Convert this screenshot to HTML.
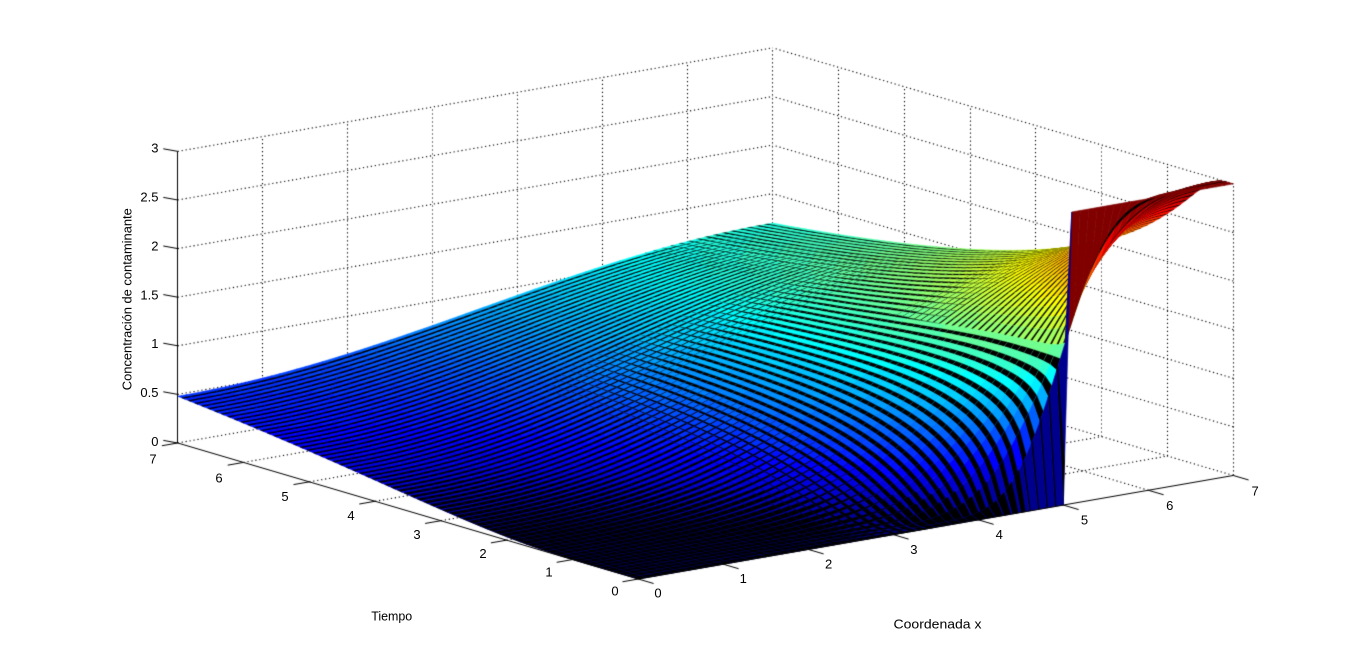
<!DOCTYPE html>
<html>
<head>
<meta charset="utf-8">
<style>
html,body{margin:0;padding:0;background:#fff;}
#wrap{position:relative;width:1367px;height:651px;overflow:hidden;background:#fff;}
#c{position:absolute;left:0;top:0;}
#t{position:absolute;left:0;top:0;}
#t text{font-family:"Liberation Sans",Arial,Helvetica,sans-serif;font-size:13px;fill:#000;}
</style>
</head>
<body>
<div id="wrap">
<canvas id="c" width="1367" height="651"></canvas>
<svg id="t" width="1367" height="651" xmlns="http://www.w3.org/2000/svg">
  <g text-anchor="end">
    <text x="158.5" y="446">0</text>
    <text x="158.5" y="397.1">0.5</text>
    <text x="158.5" y="348.2">1</text>
    <text x="158.5" y="299.3">1.5</text>
    <text x="158.5" y="250.5">2</text>
    <text x="158.5" y="201.6">2.5</text>
    <text x="158.5" y="152.7">3</text>
  </g>
  <g text-anchor="middle">
    <text x="615" y="595.5">0</text>
    <text x="549" y="576.6">1</text>
    <text x="483" y="557.8">2</text>
    <text x="417" y="538.9">3</text>
    <text x="351" y="520.1">4</text>
    <text x="285" y="501.2">5</text>
    <text x="219" y="482.3">6</text>
    <text x="153" y="463.5">7</text>
  </g>
  <g text-anchor="middle">
    <text x="658" y="597.5">0</text>
    <text x="743.3" y="582.9">1</text>
    <text x="828.6" y="568.4">2</text>
    <text x="913.9" y="553.8">3</text>
    <text x="999.2" y="539.2">4</text>
    <text x="1084.5" y="524.7">5</text>
    <text x="1169.8" y="510.1">6</text>
    <text x="1255.1" y="495.5">7</text>
  </g>
  <text transform="translate(131.5,299.2) rotate(-90)" text-anchor="middle" textLength="182" lengthAdjust="spacingAndGlyphs">Concentración de contaminante</text>
  <text x="391.7" y="620.5" text-anchor="middle" textLength="41" lengthAdjust="spacingAndGlyphs">Tiempo</text>
  <text x="937.5" y="628.3" text-anchor="middle" textLength="88" lengthAdjust="spacingAndGlyphs">Coordenada x</text>
</svg>
</div>
<script>
(function(){
  var cv=document.getElementById('c');
  var ctx=cv.getContext('2d');
  var Ox=638.3,Oy=579,ax=-65.8,ay=-19.43,bx=85,by=-14.79,zs=97.2;
  function P(a,b,z){return [Ox+ax*a+bx*b, Oy+ay*a+by*b-zs*z];}
  ctx.fillStyle='#fff';ctx.fillRect(0,0,1367,651);

  function line(p,q){
    var x1=p[0],y1=p[1],x2=q[0],y2=q[1];
    if(Math.abs(x1-x2)<0.01){x1=x2=Math.round(x1-0.5)+0.5;}
    ctx.beginPath();ctx.moveTo(x1,y1);ctx.lineTo(x2,y2);ctx.stroke();
  }

  // ---- dotted grid ----
  ctx.strokeStyle='#000';ctx.lineWidth=1.1;
  if(ctx.setLineDash)ctx.setLineDash([1.2,2.8]);
  var k;
  for(k=1;k<=7;k++){line(P(k,0,0),P(k,7,0));}
  for(k=1;k<=7;k++){line(P(0,k,0),P(7,k,0));}
  for(k=1;k<=7;k++){line(P(7,k,0),P(7,k,3));}
  for(k=0;k<=6;k++){line(P(k,7,0),P(k,7,3));}
  for(var zz=0.5;zz<=3.001;zz+=0.5){line(P(7,0,zz),P(7,7,zz));line(P(0,7,zz),P(7,7,zz));}
  if(ctx.setLineDash)ctx.setLineDash([]);

  // ---- surface data ----
  var N=70,M=70,da=0.1,db=0.1,L=7,s=5.05,D=1.0;
  var Z=[],S=[],i,j,n;
  for(i=0;i<=N;i++){
    Z.push([]);S.push([]);
    var a=i*da;
    for(j=0;j<=M;j++){
      var b=j*db,z;
      if(i===0){z=(j<=50)?0:3;}
      else{
        z=3*(L-s)/L;
        for(n=1;n<=300;n++){
          var kk=n*Math.PI/L;
          var e=Math.exp(-D*kk*kk*a);
          if(e<1e-10)break;
          z+=-6*Math.sin(kk*s)/(n*Math.PI)*Math.cos(kk*b)*e;
        }
      }
      Z[i].push(z);
      S[i].push(P(a,b,z));
    }
  }

  function jet64(){
    var m=64,nn=Math.ceil(m/4);
    var u=[],q;
    for(q=1;q<=nn;q++)u.push(q/nn);
    for(q=0;q<nn-1;q++)u.push(1);
    for(q=nn;q>=1;q--)u.push(q/nn);
    var g0=Math.ceil(nn/2)-((m%4)===1?1:0);
    var J=[];for(q=0;q<m;q++)J.push([0,0,0]);
    for(q=0;q<u.length;q++){
      var g=g0+q+1,r=g+nn,bb=g-nn;
      if(g>=1&&g<=m)J[g-1][1]=u[q];
      if(r>=1&&r<=m)J[r-1][0]=u[q];
      if(bb>=1&&bb<=m)J[bb-1][2]=u[q];
    }
    return J;
  }
  var JET=jet64();
  function col(z){
    var idx=Math.floor(z/3*64);if(idx<0)idx=0;if(idx>63)idx=63;
    var c=JET[idx];
    return 'rgb('+Math.round(c[0]*255)+','+Math.round(c[1]*255)+','+Math.round(c[2]*255)+')';
  }
  function poly(ps,fill,w){
    ctx.beginPath();ctx.moveTo(ps[0][0],ps[0][1]);
    for(var t=1;t<ps.length;t++)ctx.lineTo(ps[t][0],ps[t][1]);
    ctx.closePath();ctx.fillStyle=fill;ctx.fill();
    if(w>0){ctx.strokeStyle=fill;ctx.lineWidth=w;ctx.stroke();}
  }
  function lerp(p,q,t){return [p[0]+(q[0]-p[0])*t,p[1]+(q[1]-p[1])*t];}
  function smooth(x,e0,e1){var t=(x-e0)/(e1-e0);if(t<0)t=0;if(t>1)t=1;return t*t*(3-2*t);}

  var quads=[];
  for(i=0;i<N;i++)for(j=0;j<M;j++)quads.push([i,j,8262*(i+0.5)+6396*(j+0.5)]);
  quads.sort(function(p,q){return q[2]-p[2];});

  for(var qi=0;qi<quads.length;qi++){
    i=quads[qi][0];j=quads[qi][1];
    var p00=S[i][j],p01=S[i][j+1],p10=S[i+1][j],p11=S[i+1][j+1];
    var ac=(i+0.5)*da,bc=(j+0.5)*db;
    var z4=[Z[i][j],Z[i][j+1],Z[i+1][j],Z[i+1][j+1]];
    var zm=(z4[0]+z4[1]+z4[2]+z4[3])/4;
    var zr=Math.max(z4[0],z4[1],z4[2],z4[3])-Math.min(z4[0],z4[1],z4[2],z4[3]);
    var c=col(Z[i][j]);
    var f=0.42;
    if(zm<0.25)f=Math.min(0.97,0.42+0.6*(1-zm/0.25));
    if(zr>0.6)f=0.15;
    var wB=Math.max(smooth(bc,2.4,3.6)*(1-smooth(ac,3.8,5.2)), smooth(bc,5.4,6.5));
    if(j>=51){ wB*=smooth(ac,1.8,3.0); if(ac<2.5) f=Math.min(f,0.3); }
    if(i===0&&j>=51) f=0;
    poly([p00,p01,p11,p10],c,0.6);
    var fA=f*(1-wB), fB=f*wB;
    if(fA>0.02){
      var q0=lerp(p00,p10,fA),q1=lerp(p01,p11,fA);
      poly([p00,p01,q1,q0],'#000',0.35);
    }
    if(fB>0.02){
      var r0=lerp(p00,p01,fB),r1=lerp(p10,p11,fB);
      poly([p00,r0,r1,p10],'#000',0.35);
    }
  }

  // ---- axes and ticks ----
  ctx.strokeStyle='#000';ctx.lineWidth=1;
  line(P(7,0,0),P(7,0,3));
  line(P(0,0,0),P(7,0,0));
  line(P(0,0,0),P(0,7,0));
  for(var zt=0;zt<=3.001;zt+=0.5){var p=P(7,0,zt);line(p,[p[0]-14.4,p[1]-2.6]);}
  for(k=0;k<=7;k++){var pa=P(k,0,0);line(pa,[pa[0]-15.8,pa[1]+2.75]);}
  for(k=0;k<=7;k++){var pb=P(0,k,0);line(pb,[pb[0]+15.3,pb[1]+4.5]);}
})();
</script>
</body>
</html>
